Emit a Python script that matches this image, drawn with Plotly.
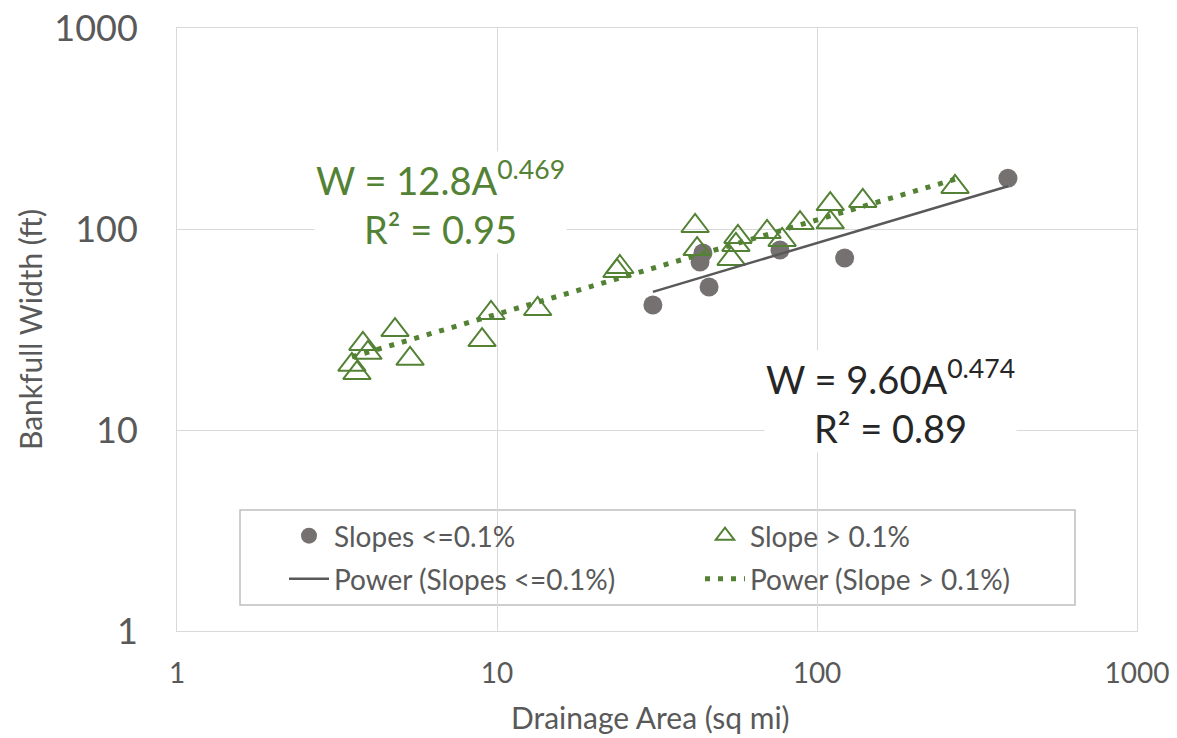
import numpy as np
import plotly.graph_objects as go

# Slopes <= 0.1% (filled circles)
low_area = [30.7, 43.1, 44.0, 46.0, 76.6, 122, 395]
low_width = [41.9, 68.5, 76.0, 51.5, 78.6, 71.7, 179]

# Slope > 0.1% (open triangles)
high_area = [3.52, 3.65, 3.81, 3.95, 4.80, 5.35, 8.98, 9.58, 13.4, 23.7, 24.2,
             41.6, 42.2, 53.9, 55.8, 56.6, 69.8, 77.8, 88.5, 110, 110, 139, 270]
high_width = [21.1, 19.2, 26.8, 24.2, 31.4, 22.6, 28.0, 38.2, 40.0, 61.8, 64.7,
              103.5, 79.5, 71.0, 83.3, 91.3, 96.7, 88.2, 107, 133, 108, 138, 162]

# Power trend coefficients (as printed on chart)
low_coef, low_exp = 9.60, 0.474
high_coef, high_exp = 12.8, 0.469

tick_vals = [1, 10, 100, 1000]
tick_text = ["1", "10", "100", "1000"]

GRAY_TXT = "#595959"
GREEN = "#548235"
CIRCLE = "#767171"
FONT = "Lato"

W, H = 1177, 738
ML, MR, MT, MB = 177, 40, 28, 107
PW, PH = W - ML - MR, H - MT - MB


def px_x(p):
    return (p - ML) / PW


def px_y(p):
    return (H - MB - p) / PH


low_x = np.geomspace(min(low_area), max(low_area), 60)
high_x = np.geomspace(min(high_area), max(high_area), 60)

fig = go.Figure()
fig.add_trace(go.Scatter(
    x=low_area, y=low_width, mode="markers", name="Slopes <=0.1%", legend="legend",
    marker=dict(symbol="circle", size=19, color=CIRCLE, line=dict(width=0))))
fig.add_trace(go.Scatter(
    x=high_area, y=high_width, mode="markers", name="Slope > 0.1%", legend="legend",
    marker=dict(symbol="triangle-up-open", size=24, color=GREEN, line=dict(width=2, color=GREEN))))
fig.add_trace(go.Scatter(
    x=low_x, y=low_coef * low_x ** low_exp, mode="lines", name="Power (Slopes <=0.1%)",
    legend="legend2", line=dict(color=GRAY_TXT, width=2.5)))
fig.add_trace(go.Scatter(
    x=high_x, y=high_coef * high_x ** high_exp, mode="lines", name="Power (Slope > 0.1%)",
    legend="legend2", line=dict(color=GREEN, width=5, dash="5px,8px")))

axis_common = dict(
    type="log", tickmode="array", tickvals=tick_vals, ticktext=tick_text,
    showgrid=True, gridcolor="#d9d9d9", gridwidth=1,
    showline=True, linecolor="#d9d9d9", linewidth=1, mirror=True,
    zeroline=False, ticks="", automargin=False,
)

leg_common = dict(
    orientation="h", xanchor="left", yanchor="top",
    bgcolor="rgba(0,0,0,0)", borderwidth=0,
    font=dict(size=28, color=GRAY_TXT, family=FONT),
    entrywidth=361, entrywidthmode="pixels", itemwidth=40,
)

fig.update_layout(
    width=W, height=H,
    margin=dict(l=ML, r=MR, t=MT, b=MB, autoexpand=False),
    paper_bgcolor="white", plot_bgcolor="white",
    font=dict(family=FONT, color=GRAY_TXT),
    showlegend=True,
    legend=dict(**leg_common, x=px_x(284), y=px_y(511)),
    legend2=dict(**leg_common, x=px_x(284), y=px_y(554)),
    xaxis=dict(**axis_common, range=[0, 3],
               tickfont=dict(size=28, color=GRAY_TXT, family=FONT), ticklabelstandoff=17),
    yaxis=dict(**axis_common, range=[0, 3],
               tickfont=dict(size=36, color=GRAY_TXT, family=FONT), ticklabelstandoff=31),
)

# legend frame
fig.add_shape(type="rect", xref="paper", yref="paper",
              x0=px_x(240), x1=px_x(1075), y0=px_y(605), y1=px_y(510),
              line=dict(color="#bfbfbf", width=1.5), fillcolor="white", layer="between")

# axis titles
fig.add_annotation(xref="paper", yref="paper", x=px_x(650), y=px_y(717),
                   xanchor="center", yanchor="middle",
                   text="Drainage Area (sq mi)", showarrow=False,
                   font=dict(size=30, color=GRAY_TXT, family=FONT))
fig.add_annotation(xref="paper", yref="paper", x=px_x(30), y=px_y(330),
                   xanchor="center", yanchor="middle",
                   text="Bankfull Width (ft)", showarrow=False, textangle=-90,
                   font=dict(size=30, color=GRAY_TXT, family=FONT))

# trend equations
fig.add_annotation(
    x=np.log10(6.68), y=np.log10(136), xref="x", yref="y", showarrow=False,
    text="W = 12.8A<sup>0.469</sup><br>R² = 0.95", align="center",
    font=dict(size=38, color=GREEN, family=FONT), bgcolor="white")
fig.add_annotation(
    x=np.log10(170), y=np.log10(13.9), xref="x", yref="y", showarrow=False,
    text="W = 9.60A<sup>0.474</sup><br>R² = 0.89", align="center",
    font=dict(size=38, color="#262626", family=FONT), bgcolor="white")

fig.write_html("out.html", config={"displayModeBar": False},
               post_script="document.body.style.margin='0';document.body.style.padding='0';")
